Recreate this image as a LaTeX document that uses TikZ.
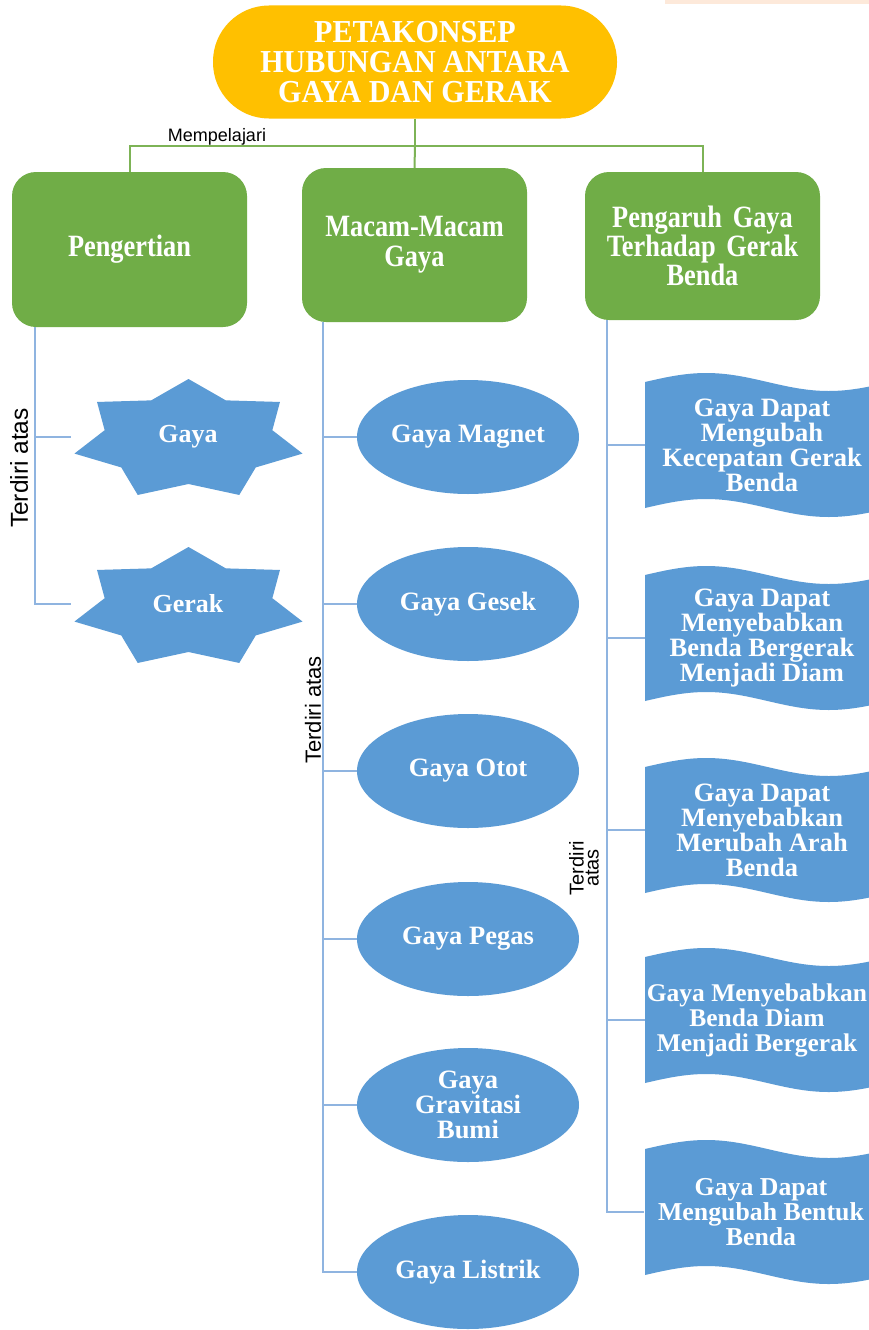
\documentclass[tikz,border=0pt]{standalone}
\usepackage{fontspec}
\setmainfont{Liberation Serif}
\newfontfamily\condserif{Liberation Serif}[FakeStretch=0.94]
\newfontfamily\boxserif{Liberation Serif}[FakeStretch=0.85]
\newfontfamily\labelsans{Liberation Sans}
\usetikzlibrary{shapes.geometric}
\definecolor{titleorange}{HTML}{FFC000}
\definecolor{boxgreen}{HTML}{70AD47}
\definecolor{shapeblue}{HTML}{5B9BD5}
\definecolor{lineblue}{HTML}{8FB4E0}
\definecolor{linegreen}{HTML}{7DB356}
\definecolor{peach}{HTML}{FDE9DA}
\newcommand\mystar[2]{\fill[shapeblue] plot[samples at={0,...,13}, variable=\k]
  ({#1+(117-31*mod(\k,2))*cos(90+\k*180/7)}, {#2-(61-17*mod(\k,2))*sin(90+\k*180/7)}) -- cycle;}
\newcommand\mywave[1]{\fill[shapeblue] (645,#1-63) sin (706.25,#1-72) cos (767.5,#1-63)
  sin (828.75,#1-54) cos (890,#1-63) -- (890,#1+63) sin (828.75,#1+72) cos (767.5,#1+63)
  sin (706.25,#1+54) cos (645,#1+63) -- cycle;}
\begin{document}
\begin{tikzpicture}[x=1pt,y=-1pt,
 titlebox/.style={fill=titleorange, rounded corners=56pt, minimum width=404pt, minimum height=113pt, text=white, font=\condserif\bfseries\fontsize{32}{30}\selectfont, align=center, inner sep=0pt},
 greenbox/.style={fill=boxgreen, rounded corners=24pt, text=white, font=\boxserif\bfseries\fontsize{31}{28}\selectfont, align=center, inner sep=0pt},
 ellipsebox/.style={ellipse, fill=shapeblue, minimum width=222pt, minimum height=114pt, inner sep=0pt, text=white, font=\bfseries\fontsize{26.5}{25}\selectfont, align=center},
 startext/.style={minimum width=234pt, inner sep=0pt, text=white, font=\bfseries\fontsize{26}{25}\selectfont},
 bannertext/.style={minimum width=234pt, inner sep=0pt, text=white, font=\bfseries\fontsize{26.5}{25}\selectfont, align=center},
 gline/.style={draw=linegreen, line width=2pt},
 bline/.style={draw=lineblue, line width=2pt},
 sidelabel/.style={rotate=90, inner sep=0pt},
]
\useasboundingbox (0,0) rectangle (869,1330);
\fill[white] (0,0) rectangle (869,1330);
\fill[peach] (665,0) rectangle (869,4);

% top
\node[titlebox] (title) at (415,62) {PETAKONSEP\\HUBUNGAN ANTARA\\GAYA DAN GERAK};
\node[greenbox, minimum width=235pt, minimum height=155pt] (peng) at (129.5,249.5) {Pengertian};
\node[greenbox, minimum width=225pt, minimum height=154pt] (macam) at (414.5,245) {Macam-Macam\\[2pt]Gaya};
\node[greenbox, minimum width=235pt, minimum height=148pt, font=\boxserif\bfseries\fontsize{31}{26}\selectfont] (pengaruh) at (702.5,246) {Pengaruh\hspace{0.35em}Gaya\\Terhadap\hspace{0.35em}Gerak\\Benda};
\node[font=\labelsans\fontsize{18}{18}\selectfont, inner sep=0pt] (mempel) at (217,137) {Mempelajari};

\coordinate (gbar) at (415,146);
\draw[gline] (title.south) -- (gbar);
\draw[gline] (peng.north) |- (gbar) -| (pengaruh.north);
\draw[gline] (gbar) -- (macam.north);

% stars
\mystar{188.5}{440}
\mystar{188.5}{608}
\node[startext] (gaya) at (188,437) {Gaya};
\node[startext] (gerak) at (188,604) {Gerak};

% ellipses
\node[ellipsebox] (e1) at (468,437) {Gaya Magnet};
\node[ellipsebox] (e2) at (468,604) {Gaya Gesek};
\node[ellipsebox] (e3) at (468,771) {Gaya Otot};
\node[ellipsebox] (e4) at (468,939) {Gaya Pegas};
\node[ellipsebox] (e5) at (468,1105) {Gaya\\Gravitasi\\Bumi};
\node[ellipsebox] (e6) at (468,1272) {Gaya Listrik};

% banners
\mywave{445}
\mywave{638}
\mywave{830}
\mywave{1020}
\mywave{1212}
\node[bannertext] (b1) at (762,445) {Gaya Dapat\\Mengubah\\Kecepatan Gerak\\Benda};
\node[bannertext] (b2) at (762,638) {Gaya Dapat\\Menyebabkan\\Benda Bergerak\\Menjadi Diam};
\node[bannertext] (b3) at (762,830) {Gaya Dapat\\Menyebabkan\\Merubah Arah\\Benda};
\node[bannertext, font=\bfseries\fontsize{25.5}{25}\selectfont, minimum width=224pt] (b4) at (757,1020) {Gaya Menyebabkan\\Benda Diam\\Menjadi Bergerak};
\node[bannertext, font=\bfseries\fontsize{25.8}{25}\selectfont] (b5) at (761,1212) {Gaya Dapat\\Mengubah Bentuk\\Benda};

% blue connectors
\coordinate (lstem) at ([xshift=23pt]peng.south west);
\coordinate (mstem) at ([xshift=21pt]macam.south west);
\coordinate (rstem) at ([xshift=22pt]pengaruh.south west);
\foreach \n in {gaya,gerak} \draw[bline] (lstem) |- (\n.west);
\foreach \n in {e1,e2,e3,e4,e5,e6} \draw[bline] (mstem) |- (\n.west);
\foreach \n in {b1,b2,b3,b4,b5} \draw[bline] (rstem) |- (\n.west);

% side labels
\node[sidelabel, font=\labelsans\fontsize{24.5}{24.5}\selectfont] (t1) at (19,468) {Terdiri atas};
\node[sidelabel, font=\labelsans\fontsize{22}{22}\selectfont] (t2) at (313,710) {Terdiri atas};
\node[sidelabel, font=\labelsans\fontsize{20}{15}\selectfont, align=center] (t3) at (584,868) {Terdiri\\atas};
\end{tikzpicture}
\end{document}
